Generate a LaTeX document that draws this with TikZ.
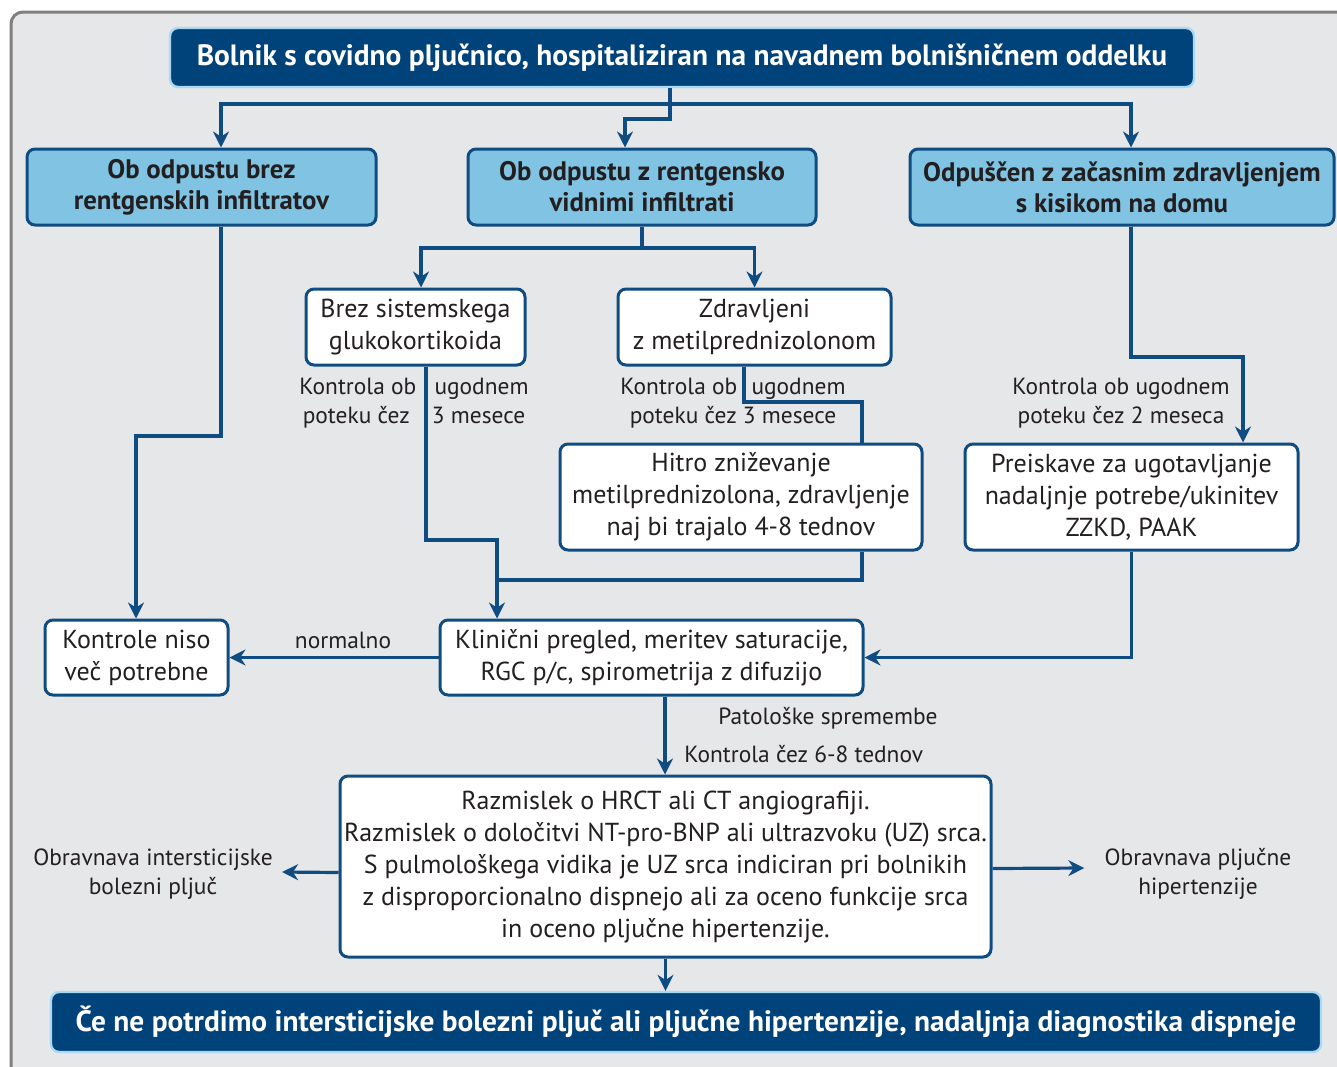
\documentclass[tikz,border=0pt]{standalone}
\usepackage{fontspec}
\setmainfont{PT Sans}
\usetikzlibrary{arrows.meta}

\definecolor{navy}{HTML}{00427A}
\definecolor{skyblue}{HTML}{80C3E2}
\definecolor{edgeblue}{HTML}{0F4C81}
\definecolor{paleblue}{HTML}{A9D9F2}
\definecolor{panel}{HTML}{E6E7E9}
\definecolor{framegray}{HTML}{808080}
\definecolor{ink}{HTML}{231F20}

\tikzset{
  box/.style={draw=edgeblue, line width=1.5pt, rounded corners=4pt, fill=white, align=center, inner sep=0pt, text=ink, font=\fontsize{13}{16}\selectfont},
  headbox/.style={box, fill=skyblue, font=\bfseries\fontsize{13.4}{15.5}\selectfont},
  darkbox/.style={draw=paleblue, line width=1.2pt, fill=navy, rounded corners=4pt, align=center, inner sep=0pt, text=white, font=\bfseries\fontsize{14.7}{16}\selectfont},
  note/.style={align=center, text=ink, inner sep=0pt, font=\fontsize{11.7}{14.5}\selectfont},
  line/.style={draw=edgeblue, line width=1.6pt},
  arr/.style={line, -{Stealth[length=8pt,width=8pt]}},
}

\begin{document}
\begin{tikzpicture}[x=0.5pt,y=-0.5pt]

\useasboundingbox (0,0) rectangle (1337,1066);
\draw[framegray, line width=1.5pt, fill=panel, rounded corners=6pt] (11,12) rectangle (1370,1100);

%top of the chart
\node[darkbox, minimum width=512pt, minimum height=29.5pt] (title) at (682,57.5) {Bolnik s covidno pljučnico, hospitaliziran na navadnem bolnišničnem oddelku};

\node[headbox, minimum width=174.5pt, minimum height=38pt] (noinf) at (201.5,187) {Ob odpustu brez\\rentgenskih infiltratov};
\node[headbox, minimum width=174pt, minimum height=38pt] (inf) at (642,187) {Ob odpustu z rentgensko\\vidnimi infiltrati};
\node[headbox, minimum width=212pt, minimum height=38pt] (oxygen) at (1122,187) {Odpuščen z začasnim zdravljenjem\\s kisikom na domu};

%second row
\node[box, minimum width=109.5pt, minimum height=38pt] (nosteroid) at (415.5,327) {Brez sistemskega\\glukokortikoida};
\node[box, minimum width=136.5pt, minimum height=38pt] (steroid) at (754.5,327) {Zdravljeni\\z metilprednizolonom};
\node[box, minimum width=181pt, minimum height=53pt] (taper) at (741,497) {Hitro zniževanje\\metilprednizolona, zdravljenje\\naj bi trajalo 4-8 tednov};
\node[box, minimum width=166.5pt, minimum height=53pt] (tests) at (1131.5,497) {Preiskave za ugotavljanje\\nadaljnje potrebe/ukinitev\\ZZKD, PAAK};

\node[note] (ctrlA) at (414,403) {Kontrola ob\hspace{6pt} ugodnem\\poteku čez\hspace{8pt} 3 mesece};
\node[note] (ctrlB) at (733,403) {Kontrola ob\hspace{4pt} ugodnem\\poteku čez 3 mesece};
\node[note] (ctrlC) at (1121,403) {Kontrola ob ugodnem\\poteku čez 2 meseca};

%control visit
\node[box, minimum width=91.5pt, minimum height=37.5pt] (done) at (136.5,657.5) {Kontrole niso\\več potrebne};
\node[box, minimum width=211.5pt, minimum height=37.5pt] (exam) at (651.5,657.5) {Klinični pregled, meritev saturacije,\\RGC p/c, spirometrija z difuzijo};
\node[note] (normal) at (343,640) {normalno};
\node[note] (patho) at (828,718) {Patološke spremembe};
\node[note, anchor=west] (followup) at (684,754) {Kontrola čez 6-8 tednov};

\node[box, minimum width=325.5pt, minimum height=90.5pt] (hrct) at (665.5,866.5) {Razmislek o HRCT ali CT angiografiji.\\Razmislek o določitvi NT-pro-BNP ali ultrazvoku (UZ) srca.\\S pulmološkega vidika je UZ srca indiciran pri bolnikih\\z disproporcionalno dispnejo ali za oceno funkcije srca\\in oceno pljučne hipertenzije.};
\node[note] (ild) at (153,874) {Obravnava intersticijske\\bolezni pljuč};
\node[note] (ph) at (1198,874) {Obravnava pljučne\\hipertenzije};

\node[darkbox, minimum width=635pt, minimum height=30pt] (dysp) at (686,1022) {Če ne potrdimo intersticijske bolezni pljuč ali pljučne hipertenzije, nadaljnja diagnostika dispneje};

%bends of the connectors
\coordinate (hub) at (670,104);
\coordinate (bendB) at (625,119);
\coordinate (split) at (642,248);
\coordinate (kneeA) at (136,436);
\coordinate (kneeD) at (497,540);
\coordinate (kneeE) at (862,402);
\coordinate (merge) at (497,580);
\coordinate (kneeC) at (1243,357);

\draw[line] ([xshift=-6pt]title.south) -- (hub);
\draw[arr] (hub) -| ([xshift=9.75pt]noinf.north);
\draw[arr] (hub) -| ([xshift=4.5pt]oxygen.north);
\draw[arr] ([xshift=-6pt]title.south) |- (bendB) -- (bendB |- inf.north);

\draw[line] (inf.south) -- (split);
\draw[arr] (split) -| ([xshift=2.75pt]nosteroid.north);
\draw[arr] (split) -| (steroid.north);

\draw[arr] ([xshift=9.75pt]noinf.south) |- (kneeA) -- (kneeA |- done.north);
\draw[arr] ([xshift=5.25pt]nosteroid.south) |- (kneeD) -- (kneeD |- exam.north);
\draw[line] ([xshift=-5.25pt]steroid.south) |- (kneeE) -- (kneeE |- taper.north);
\draw[line] (kneeE |- taper.south) |- (merge);
\draw[arr] ([xshift=4.5pt]oxygen.south) |- (kneeC) -- (kneeC |- tests.north);
\draw[arr] (tests.south) |- (exam.east);

\draw[arr] (exam.west) -- (done.east);
\draw[arr] ([xshift=6.75pt]exam.south) -- ([xshift=6.75pt]exam.south |- hrct.north);
\draw[arr] ([yshift=-3pt]hrct.west) -- ([xshift=4.5pt]ild.east |- 0,872);
\draw[arr] ([yshift=-1pt]hrct.east) -- ([xshift=-10pt]ph.west |- 0,868);
\draw[arr] (hrct.south) -- (hrct.south |- dysp.north);

\end{tikzpicture}
\end{document}
